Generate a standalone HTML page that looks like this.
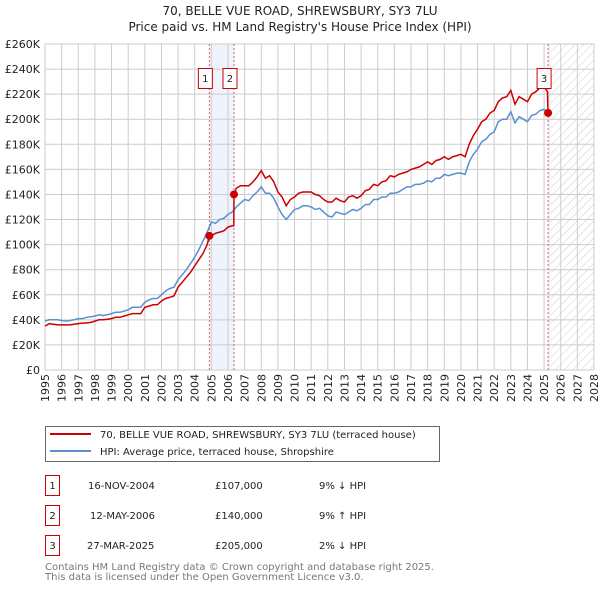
<!DOCTYPE html>
<html><head><meta charset="utf-8"><style>
body{margin:0;background:#fff;font-family:"DejaVu Sans","Liberation Sans",sans-serif}
svg{display:block}
</style></head><body>
<svg id="c" width="600" height="590" xmlns="http://www.w3.org/2000/svg" font-family="DejaVu Sans, Liberation Sans, sans-serif">
<defs><pattern id="hatch" width="6" height="6" patternUnits="userSpaceOnUse" patternTransform="rotate(45)"><line x1="0" y1="0" x2="0" y2="6" stroke="#ccc" stroke-width="1"/></pattern></defs>
<text x="300" y="15" text-anchor="middle" font-size="12" fill="#222">70, BELLE VUE ROAD, SHREWSBURY, SY3 7LU</text>
<text x="300" y="31" text-anchor="middle" font-size="12" fill="#222">Price paid vs. HM Land Registry's House Price Index (HPI)</text>
<g id="plot"></g>
<g>
<rect x="45.5" y="426.5" width="394" height="35" fill="#fff" stroke="#666"/>
<line x1="50" y1="434" x2="91" y2="434" stroke="#cc0000" stroke-width="2"/>
<text x="100" y="438" font-size="10" fill="#222">70, BELLE VUE ROAD, SHREWSBURY, SY3 7LU (terraced house)</text>
<line x1="50" y1="451" x2="91" y2="451" stroke="#5b8fd0" stroke-width="2"/>
<text x="100" y="455" font-size="10" fill="#222">HPI: Average price, terraced house, Shropshire</text>
</g>
<g font-size="10" fill="#222">
<rect x="45.5" y="475.5" width="14" height="20" fill="none" stroke="#cc0000"/><text x="52.5" y="489" text-anchor="middle">1</text>
<text x="88" y="489">16-NOV-2004</text><text x="215" y="489">£107,000</text><text x="319" y="489">9% ↓ HPI</text>
<rect x="45.5" y="505.5" width="14" height="20" fill="none" stroke="#cc0000"/><text x="52.5" y="519" text-anchor="middle">2</text>
<text x="90" y="519">12-MAY-2006</text><text x="215" y="519">£140,000</text><text x="319" y="519">9% ↑ HPI</text>
<rect x="45.5" y="535.5" width="14" height="20" fill="none" stroke="#cc0000"/><text x="52.5" y="549" text-anchor="middle">3</text>
<text x="87" y="549">27-MAR-2025</text><text x="215" y="549">£205,000</text><text x="319" y="549">2% ↓ HPI</text>
</g>
<text x="45" y="570" font-size="10" fill="#777">Contains HM Land Registry data © Crown copyright and database right 2025.</text>
<text x="45" y="580" font-size="10" fill="#777">This data is licensed under the Open Government Licence v3.0.</text>
</svg>
<script>
const hpiStartYear = 1995;
const hpiValues = [39,40,40,40, 39.5,39,39.5,40, 41,41,42,42.5, 43,44,43.5,44, 45,46,46,47, 48,50,50,50, 54,56,57,57, 60,63,65,66, 72,76,80,85, 90,96,103,110, 118,117,120,121, 124,126,130,133, 136,135,139,142, 146,141,141,137, 130,124,120,124, 128,129,131,131, 130,128,129,126, 123,122,126,125, 124,126,128,127, 129,132,132,136, 136,138,138,141, 141,142,144,146, 146,148,148,149, 151,150,153,153, 156,155,156,157, 157,156,166,172, 176,182,184,188, 190,198,200,200, 206,197,202,200, 198,203,204,207, 208,205];
const priceYears = [1995,1995.25,1995.5,1995.75,1996,1996.25,1996.5,1996.75,1997,1997.25,1997.5,1997.75,1998,1998.25,1998.5,1998.75,1999,1999.25,1999.5,1999.75,2000,2000.25,2000.5,2000.75,2001,2001.25,2001.5,2001.75,2002,2002.25,2002.5,2002.75,2003,2003.25,2003.5,2003.75,2004,2004.25,2004.5,2004.75,2004.88,2005,2005.25,2005.5,2005.75,2006,2006.25,2006.35,2006.36,2006.5,2006.75,2007,2007.25,2007.5,2007.75,2008,2008.25,2008.5,2008.75,2009,2009.25,2009.5,2009.75,2010,2010.25,2010.5,2010.75,2011,2011.25,2011.5,2011.75,2012,2012.25,2012.5,2012.75,2013,2013.25,2013.5,2013.75,2014,2014.25,2014.5,2014.75,2015,2015.25,2015.5,2015.75,2016,2016.25,2016.5,2016.75,2017,2017.25,2017.5,2017.75,2018,2018.25,2018.5,2018.75,2019,2019.25,2019.5,2019.75,2020,2020.25,2020.5,2020.75,2021,2021.25,2021.5,2021.75,2022,2022.25,2022.5,2022.75,2023,2023.25,2023.5,2023.75,2024,2024.25,2024.5,2024.75,2025,2025.2,2025.24,2025.4];
const priceValues = [35,37,36.5,36,36,36,36,36.5,37,37.5,37.5,38,39,40,40,40.5,41,42,42,43,44,45,45,45,50,51,52,52,55,57,58,59,66,70,74,78,83,88,93,100,107,107,109,110,111,114,115,115,140,145,147,147,147,150,154,159,153,155,150,142,138,131,136,138,141,142,142,142,140,139,136,134,134,137,135,134,138,139,137,139,143,144,148,147,150,151,155,154,156,157,158,160,161,162,164,166,164,167,168,170,168,170,171,172,170,180,187,192,198,200,205,207,214,217,218,223,212,218,216,214,220,222,225,226,222,205,203];
const saleYears = [2004.88, 2006.36, 2025.24];
const salePrices = [107, 140, 205];
const saleLabels = ['1','2','3'];
const yTicks = [0,20,40,60,80,100,120,140,160,180,200,220,240,260];
const xTicks = [1995,1996,1997,1998,1999,2000,2001,2002,2003,2004,2005,2006,2007,2008,2009,2010,2011,2012,2013,2014,2015,2016,2017,2018,2019,2020,2021,2022,2023,2024,2025,2026,2027,2028];

const NS='http://www.w3.org/2000/svg';
const X0=45,X1=594,Y0=370,Y1=44;
const xs=y=>X0+(y-1995)/(2028-1995)*(X1-X0);
const ys=v=>Y0-v/260*(Y0-Y1);
const g=document.getElementById('plot');
function mk(t,a){const e=document.createElementNS(NS,t);for(const k in a)e.setAttribute(k,a[k]);g.appendChild(e);return e;}
// shade + hatch
let r=mk('rect',{x:xs(saleYears[0]),y:Y1,width:xs(saleYears[1])-xs(saleYears[0]),height:Y0-Y1,fill:'#eef3fc'});


r=mk('rect',{x:xs(2025.4),y:Y1,width:X1-xs(2025.4),height:Y0-Y1,fill:'url(#hatch)'});


r=mk('rect',{x:xs(2025.24),y:Y1,width:xs(2025.4)-xs(2025.24),height:Y0-Y1,fill:'#eef3fc'});


// grid
xTicks.forEach(t=>{const x=xs(t);
 const l=mk('line',{x1:x,y1:Y1,x2:x,y2:Y0,stroke:'#ccc','stroke-width':1});
 
 
 const tx=mk('text',{x:0,y:0,'font-size':11,fill:'#222','text-anchor':'end',transform:`translate(${x+4},374) rotate(-90)`});
 tx.textContent=t;
 
 
});
yTicks.forEach(t=>{const y=ys(t);
 const l=mk('line',{x1:X0,y1:y,x2:X1,y2:y,stroke:'#ccc','stroke-width':1});
 
 
 const tx=mk('text',{x:40,y:y+4,'font-size':11,fill:'#222','text-anchor':'end'});
 tx.textContent=t===0?'£0':'£'+t+'K';
 
 
});
// sale vlines
saleYears.forEach(s=>{const l=mk('line',{x1:xs(s),y1:Y1,x2:xs(s),y2:Y0,stroke:'#e06060','stroke-width':1,'stroke-dasharray':'2,2'});
 
 });
// HPI
let d=hpiValues.map((v,i)=>(i?'L':'M')+xs(hpiStartYear+i*0.25).toFixed(1)+','+ys(v).toFixed(1)).join('');
let p=mk('path',{d,fill:'none',stroke:'#5b8fd0','stroke-width':1.5});


d=priceValues.map((v,i)=>(i?'L':'M')+xs(priceYears[i]).toFixed(1)+','+ys(v).toFixed(1)).join('');
p=mk('path',{d,fill:'none',stroke:'#cc0000','stroke-width':1.5});


const bx=[-4,-4,-4];
saleYears.forEach((s,i)=>{
 const c=mk('circle',{cx:xs(s),cy:ys(salePrices[i]),r:4,fill:'#cc0000'});
 
 
 const cx=xs(s)+bx[i];
 const b=mk('rect',{x:cx-7,y:68.5,width:14,height:20,fill:'#fff',stroke:'#cc0000'});
 
 
 const t=mk('text',{x:cx,y:82,'font-size':10,fill:'#222','text-anchor':'middle'});
 t.textContent=saleLabels[i];
 
 
});
</script>
</body></html>
